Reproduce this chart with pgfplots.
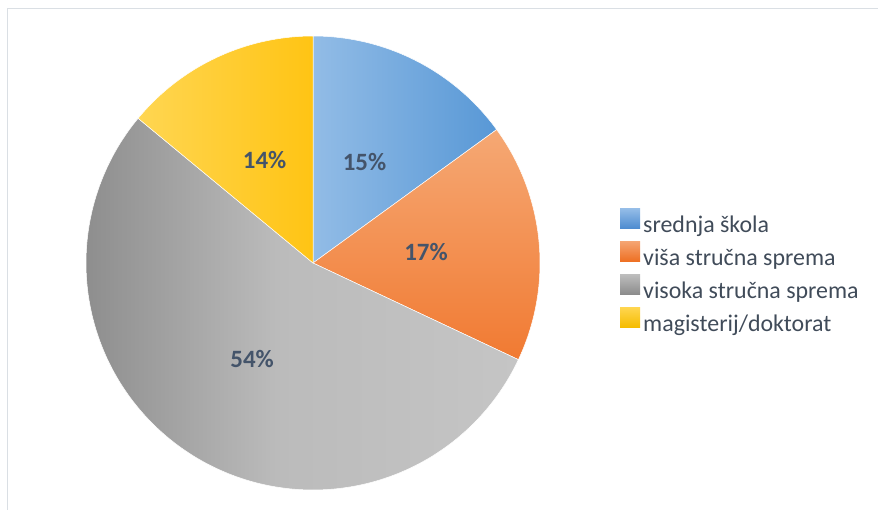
\documentclass[border=0pt]{standalone}
\usepackage{pgfplots}
\pgfplotsset{compat=1.18}
\usepackage{fontspec}
\setmainfont{Carlito}

\definecolor{labeltext}{HTML}{44546A}
\definecolor{legtext}{HTML}{404B59}
\definecolor{framecol}{HTML}{DADFE4}
\definecolor{gA}{HTML}{8E8E8E}
\definecolor{gB}{HTML}{BBBBBB}
\definecolor{gC}{HTML}{C5C5C5}
\pgfdeclarehorizontalshading{grayslice}{100bp}{color(0bp)=(gA); color(25bp)=(gA); color(47bp)=(gB); color(75bp)=(gC); color(100bp)=(gC)}

% shares in percent, clockwise from the top
\def\vA{15}\def\vB{17}\def\vC{54}\def\vD{14}
\pgfmathsetmacro\aA{90}
\pgfmathsetmacro\aB{\aA-3.6*\vA}
\pgfmathsetmacro\aC{\aB-3.6*\vB}
\pgfmathsetmacro\aD{\aC-3.6*\vC}
\pgfmathsetmacro\aE{\aD-3.6*\vD}
% centre and radius (pixel units)
\def\cx{313}\def\cy{247}\def\rr{227}\def\rl{113.5}

\tikzset{pct/.style={font=\fontsize{25}{30}\selectfont\bfseries, text=labeltext}}

\begin{document}
\begin{tikzpicture}
\begin{axis}[
    scale only axis,
    width=878bp, height=510bp,
    xmin=0, xmax=878, ymin=0, ymax=510,
    hide axis, clip=false,
    legend style={draw=none, fill=none, at={(axis cs:617,304)}, anchor=north west,
        font=\fontsize{24}{28}\selectfont\color{legtext},
        nodes={inner sep=0pt, text height=19bp, text depth=9bp},
        /tikz/every odd column/.append style={column sep=3bp}},
    legend cell align=left,
]
\addplot[forget plot, draw=white, line width=0.5bp, left color={rgb,255:red,146;green,188;blue,230}, right color={rgb,255:red,88;green,152;blue,214},
    domain=\aA:\aB, samples=80, variable=\t]
    ({\cx+\rr*cos(t)},{\cy+\rr*sin(t)}) -- (axis cs:\cx,\cy) -- cycle;
\addplot[forget plot, draw=white, line width=0.5bp, top color={rgb,255:red,245;green,168;blue,116}, bottom color={rgb,255:red,241;green,122;blue,50},
    domain=\aB:\aC, samples=80, variable=\t]
    ({\cx+\rr*cos(t)},{\cy+\rr*sin(t)}) -- (axis cs:\cx,\cy) -- cycle;
\addplot[forget plot, draw=white, line width=0.5bp, shading=grayslice,
    domain=\aC:\aD, samples=160, variable=\t]
    ({\cx+\rr*cos(t)},{\cy+\rr*sin(t)}) -- (axis cs:\cx,\cy) -- cycle;
\addplot[forget plot, draw=white, line width=0.5bp, left color={rgb,255:red,255;green,214;blue,82}, right color={rgb,255:red,255;green,196;blue,20},
    domain=\aD:\aE, samples=80, variable=\t]
    ({\cx+\rr*cos(t)},{\cy+\rr*sin(t)}) -- (axis cs:\cx,\cy) -- cycle;

% percentage labels at half the radius
\node[pct] at (axis cs:{\cx+\rl*cos((\aA+\aB)/2)},{\cy+\rl*sin((\aA+\aB)/2)}) {\vA\%};
\node[pct] at (axis cs:{\cx+\rl*cos((\aB+\aC)/2)},{\cy+\rl*sin((\aB+\aC)/2)}) {\vB\%};
\node[pct] at (axis cs:{\cx+\rl*cos((\aC+\aD)/2)},{\cy+\rl*sin((\aC+\aD)/2)}) {\vC\%};
\node[pct] at (axis cs:{\cx+\rl*cos((\aD+\aE)/2)},{\cy+\rl*sin((\aD+\aE)/2)}) {\vD\%};

\addlegendimage{legend image code/.code={\shade[draw=none, top color={rgb,255:red,150;green,190;blue,232}, bottom color={rgb,255:red,78;green,140;blue,208}] (0bp,-1bp) rectangle (20bp,19bp);}}
\addlegendimage{legend image code/.code={\shade[draw=none, top color={rgb,255:red,245;green,165;blue,115}, bottom color={rgb,255:red,238;green,112;blue,35}] (0bp,-1bp) rectangle (20bp,19bp);}}
\addlegendimage{legend image code/.code={\shade[draw=none, top color={rgb,255:red,190;green,190;blue,190}, bottom color={rgb,255:red,140;green,140;blue,140}] (0bp,-1bp) rectangle (20bp,19bp);}}
\addlegendimage{legend image code/.code={\shade[draw=none, top color={rgb,255:red,255;green,214;blue,80}, bottom color={rgb,255:red,245;green,188;blue,0}] (0bp,-1bp) rectangle (20bp,19bp);}}
\legend{srednja škola, viša stručna sprema, visoka stručna sprema, magisterij/doktorat}

% chart area frame (top and left edges visible)
\draw[framecol, line width=1.5bp] (axis cs:7.5,0) -- (axis cs:7.5,501.5) -- (axis cs:878,501.5);
\end{axis}
\pgfresetboundingbox
\path (0,0) rectangle (878bp,510bp);
\end{tikzpicture}
\end{document}
